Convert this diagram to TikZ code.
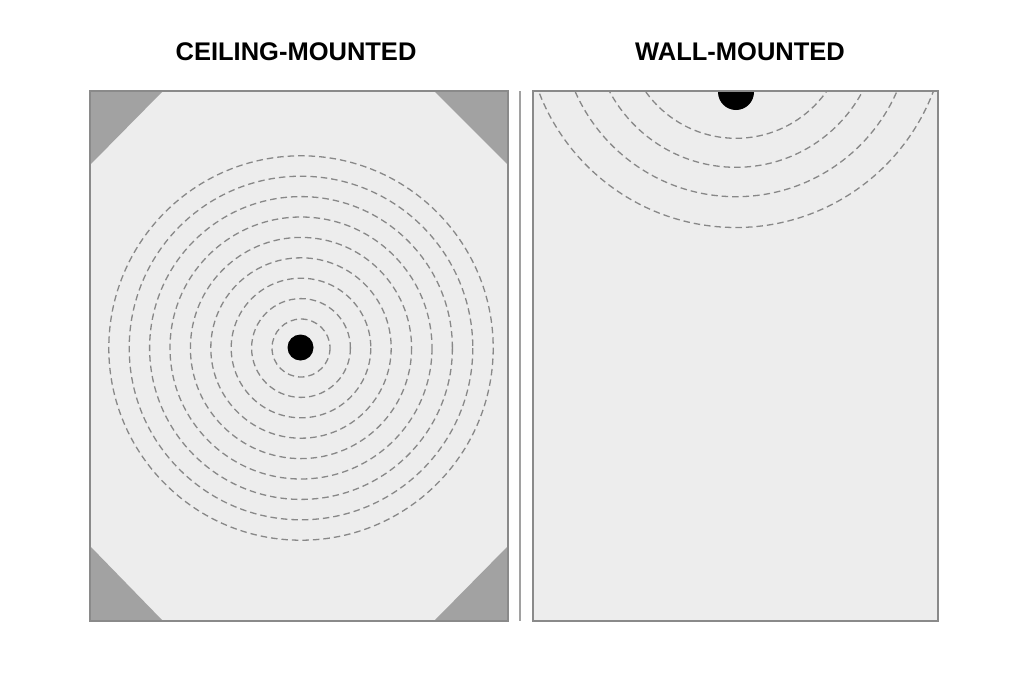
\documentclass[tikz,border=0pt]{standalone}
\usepackage{fontspec}
\setmainfont{Liberation Sans}
\definecolor{panelfill}{HTML}{EDEDED}
\definecolor{panelline}{HTML}{8A8A8A}
\definecolor{cornerfill}{HTML}{A2A2A2}
\definecolor{ringcol}{HTML}{888888}
\begin{document}
\begin{tikzpicture}[x=1pt,y=-1pt,
  panel/.style={fill=panelfill,draw=panelline,line width=1.5pt},
  corner/.style={fill=cornerfill,draw=none},
  ring/.style={draw=ringcol,line width=1.3pt,dash pattern=on 6.5pt off 4pt},
  title/.style={font=\bfseries\fontsize{25.5}{30}\selectfont,text=black,inner sep=0pt}]
\useasboundingbox (0,0) rectangle (1024,683);
\fill[white] (0,0) rectangle (1024,683);
% titles
\node[title] (t1) at (296,52) {CEILING-MOUNTED};
\node[title] (t2) at (740,52) {WALL-MOUNTED};
% left panel
\fill[panelfill] (90,91) rectangle (508,621);
\fill[corner] (90,91) -- (163,91) -- (90,165) -- cycle;
\fill[corner] (508,91) -- (434,91) -- (508,165) -- cycle;
\fill[corner] (90,621) -- (90,546) -- (163,621) -- cycle;
\fill[corner] (508,621) -- (508,546) -- (434,621) -- cycle;
\foreach \k in {0,...,8} {
  \draw[ring] (301,348) circle[radius={29+20.4*\k}];
}
\fill[black] (300.5,347.5) circle[radius=13];
\draw[draw=panelline,line width=1.5pt] (90,91) rectangle (508,621);
% divider
\draw[draw=panelline!80,line width=1.3pt] (520,91) -- (520,621);
% right panel
\fill[panelfill] (533,91) rectangle (938,621);
\begin{scope}
  \clip (533,91) rectangle (938,621);
  \draw[ring] (736,27.5) circle[radius=110.8];
  \draw[ring] (736,24) circle[radius=143.3];
  \draw[ring] (736,21.2) circle[radius=175.5];
  \draw[ring] (736,16.5) circle[radius=211];
  \fill[black] (736,92) circle[radius=18];
\end{scope}
\draw[draw=panelline,line width=1.5pt] (533,91) rectangle (938,621);
\end{tikzpicture}
\end{document}
